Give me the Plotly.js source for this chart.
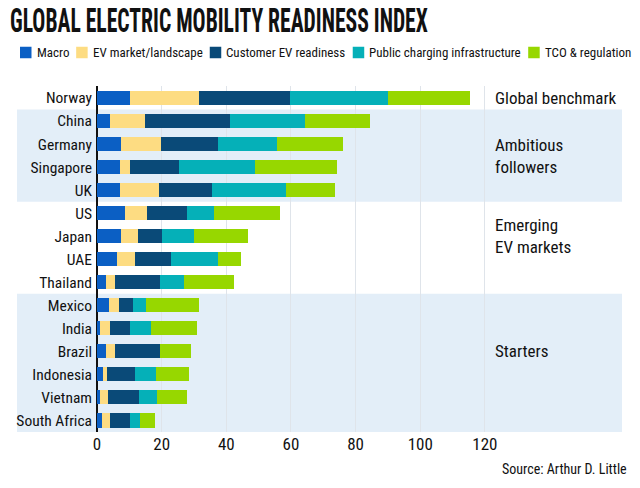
<!DOCTYPE html>
<html>
<head>
<meta charset="utf-8">
<script src="https://cdn.plot.ly/plotly-3.0.1.min.js"></script>
<style>
html,body{margin:0;padding:0;background:#fff;}
#chart{width:640px;height:488px;}
</style>
</head>
<body>
<div id="chart"></div>
<script>
var countries = ["Norway","China","Germany","Singapore","UK","US","Japan","UAE","Thailand","Mexico","India","Brazil","Indonesia","Vietnam","South Africa"];
var macro     = [10.2, 4.0, 7.4, 7.2, 7.2, 8.6, 7.5, 6.3, 2.9, 3.8, 0.9, 2.7, 1.8, 1.0, 1.5];
var evMarket  = [21.2, 11.0, 12.3, 3.1, 12.0, 6.9, 5.2, 5.6, 2.7, 2.9, 3.0, 2.9, 1.2, 2.3, 2.4];
var customer  = [28.4, 26.2, 17.6, 15.1, 16.4, 12.3, 7.4, 11.0, 13.9, 4.3, 6.2, 13.8, 8.9, 9.7, 6.3];
var charging  = [30.1, 23.1, 18.3, 23.5, 22.8, 8.4, 10.0, 14.5, 7.5, 4.2, 6.6, 0.0, 6.5, 5.7, 3.2];
var tco       = [25.6, 20.0, 20.4, 25.2, 15.1, 20.3, 16.6, 7.0, 15.3, 16.4, 14.1, 9.6, 10.2, 9.1, 4.5];
var seriesNames = ["Macro","EV market/landscape","Customer EV readiness","Public charging infrastructure","TCO & regulation"];
var tickVals = [0, 20, 40, 60, 80, 100, 120];
var groups = [
  {label: "Global benchmark", first: "Norway", last: "Norway", labelAt: ["Norway"], shaded: false},
  {label: "Ambitious<br>followers", first: "China", last: "UK", labelAt: ["Germany", "Singapore"], shaded: true},
  {label: "Emerging<br>EV markets", first: "US", last: "Thailand", labelAt: ["Japan"], shaded: false},
  {label: "Starters", first: "Mexico", last: "South Africa", labelAt: ["Brazil"], shaded: true}
];

var FONT = "'Roboto Condensed', 'DejaVu Sans Condensed', 'Liberation Sans Narrow', sans-serif";
var colors = ["#0b5fc4", "#fddc82", "#0a4a78", "#05b0b8", "#97d700"];
var values = [macro, evMarket, customer, charging, tco];

// plot-area geometry (pixels)
var W = 640, H = 488, M = {l: 97, r: 18, t: 86, b: 56};
var PW = W - M.l - M.r, PH = H - M.t - M.b;
function px2paperX(px){ return (px - M.l) / PW; }
function py2paperY(py){ return (H - M.b - py) / PH; }

var traces = values.map(function(v, i){
  return {
    type: "bar", orientation: "h",
    x: v, y: countries, name: seriesNames[i],
    marker: {color: colors[i], line: {width: 0}},
    showlegend: false,
    hoverinfo: "x+y+name"
  };
});

var shapes = [];
var annotations = [];
groups.forEach(function(g){
  var i0 = countries.indexOf(g.first), i1 = countries.indexOf(g.last);
  if (g.shaded) {
    shapes.push({type: "rect", xref: "paper", yref: "y", x0: px2paperX(17), x1: px2paperX(622),
      y0: i0 - 0.5, y1: i1 + 0.5, fillcolor: "#e3eef8", line: {width: 0}, layer: "below"});
  }
  var idx = g.labelAt.map(function(c){ return countries.indexOf(c); });
  var yc = idx.reduce(function(a, b){ return a + b; }, 0) / idx.length;
  annotations.push({xref: "x", yref: "y", x: 122.6, y: yc, text: g.label,
    showarrow: false, xanchor: "left", yanchor: "middle", align: "left",
    font: {family: FONT, size: 17, color: "#111"}});
});

// legend row (swatch + label), laid out across the top
var LEG_SIZE = 13, LEG_LEFT = 20, LEG_RIGHT = 629, SW = 11.5, SWGAP = 3;
var ctx = document.createElement("canvas").getContext("2d");
ctx.font = LEG_SIZE + "px 'Roboto Condensed'";
var widths = seriesNames.map(function(n){ return ctx.measureText(n).width; });
var used = widths.reduce(function(a, b){ return a + b; }, 0) + seriesNames.length * (SW + SWGAP);
var gap = (LEG_RIGHT - LEG_LEFT - used) / (seriesNames.length - 1);
var cx = LEG_LEFT, legY = 52.5;
seriesNames.forEach(function(n, i){
  shapes.push({type: "rect", xref: "paper", yref: "paper",
    x0: px2paperX(cx), x1: px2paperX(cx + SW), y0: py2paperY(legY + SW / 2), y1: py2paperY(legY - SW / 2),
    fillcolor: colors[i], line: {width: 0}});
  annotations.push({xref: "paper", yref: "paper", x: px2paperX(cx + SW + SWGAP), y: py2paperY(legY),
    xanchor: "left", yanchor: "middle", text: n, showarrow: false,
    font: {family: FONT, size: LEG_SIZE, color: "#111"}});
  cx += SW + SWGAP + widths[i] + gap;
});

annotations.push({xref: "paper", yref: "paper", x: px2paperX(629), y: py2paperY(469), xanchor: "right", yanchor: "middle",
  text: "Source: Arthur D. Little", showarrow: false, font: {family: FONT, size: 14, color: "#111"}});

var layout = {
  width: W, height: H,
  margin: {l: M.l, r: M.r, t: M.t, b: M.b, pad: 0},
  paper_bgcolor: "#fff", plot_bgcolor: "rgba(0,0,0,0)",
  barmode: "stack", bargap: 0.39,
  font: {family: FONT, color: "#111"},
  title: {text: "<b>GLOBAL ELECTRIC MOBILITY READINESS INDEX</b>", x: 10 / W, xref: "container",
    xanchor: "left", y: 1 - 20 / H, yanchor: "middle",
    font: {family: FONT, size: 33, color: "#111"}},
  showlegend: false,
  xaxis: {range: [0, 162.4], tickvals: tickVals, showgrid: true, gridcolor: "#dfe4ea", gridwidth: 1,
    zeroline: true, zerolinecolor: "#111", zerolinewidth: 2, ticks: "", tickfont: {family: FONT, size: 17, color: "#111"},
    fixedrange: true},
  yaxis: {autorange: "reversed", type: "category", showgrid: false, zeroline: false, ticks: "",
    tickfont: {family: FONT, size: 15.5, color: "#111"}, ticklabelstandoff: 4, fixedrange: true},
  shapes: shapes,
  annotations: annotations
};

Plotly.newPlot("chart", traces, layout, {displayModeBar: false, staticPlot: true}).then(function(gd){
  // condense the heavy headline to the reference's narrow display face width
  var t = gd.querySelector(".gtitle");
  if (t) {
    var bb = t.getBBox();
    var target = 418;
    var s = Math.min(1, target / bb.width);
    var x0 = bb.x;
    var prev = t.getAttribute("transform") || "";
    t.setAttribute("transform", prev + " translate(" + x0 + ",0) scale(" + s + ",1) translate(" + (-x0) + ",0)");
  }
});
</script>
</body>
</html>
